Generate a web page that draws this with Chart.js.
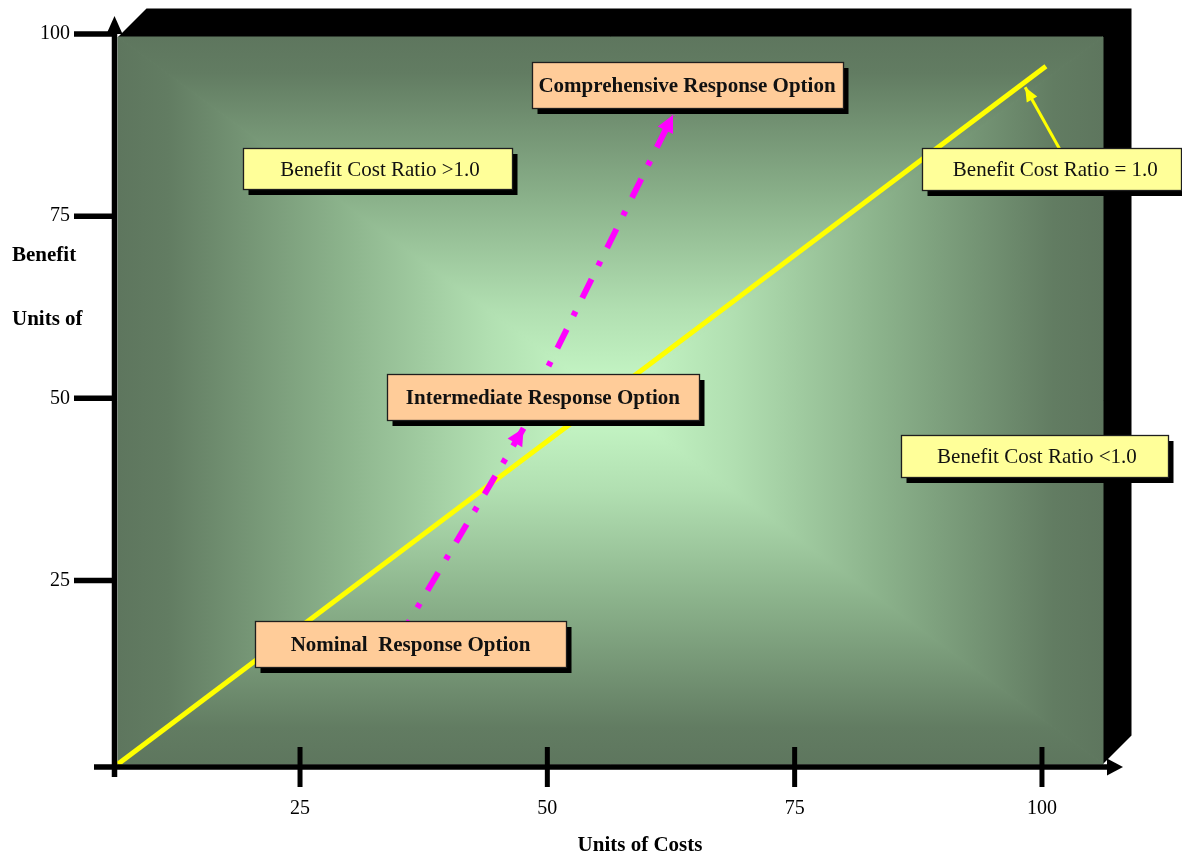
<!DOCTYPE html>
<html>
<head>
<meta charset="utf-8">
<title>Benefit / Cost of Response Options</title>
<script src="https://cdn.jsdelivr.net/npm/chart.js@4.4.0/dist/chart.umd.min.js"></script>
<style>
  html, body { margin: 0; padding: 0; background: #ffffff; }
  #wrap { position: relative; width: 1182px; height: 856px; }
</style>
</head>
<body>
<div id="wrap"><canvas id="chart"></canvas></div>
<script>
// ---- values ----
const xTicks = [25, 50, 75, 100];
const yTicks = [25, 50, 75, 100];

// benefit = cost reference line
const parityLine = [{ x: 6.6, y: -0.2 }, { x: 100.4, y: 95.6 }];
// progression of response options
const pathToIntermediate = [{ x: 35.0, y: 17.0 }, { x: 47.6, y: 45.9 }];
const pathToComprehensive = [{ x: 48.5, y: 50.0 }, { x: 62.7, y: 88.9 }];
// pointer from the "= 1.0" note to the reference line
const parityPointer = [{ x: 101.8, y: 84.2 }, { x: 98.3, y: 92.7 }];

const optionLabels = ['Nominal  Response Option', 'Intermediate Response Option', 'Comprehensive Response Option'];
const ratioLabels = ['Benefit Cost Ratio >1.0', 'Benefit Cost Ratio = 1.0', 'Benefit Cost Ratio <1.0'];
const xTitle = 'Units of Costs';
const yTitleLines = ['Benefit', 'Units of'];

const SERIF = '"Liberation Serif", "Times New Roman", serif';

// ---- panel: depth frame + rectangular centre gradient ----
const panelPlugin = {
  id: 'panel',
  beforeDatasetsDraw(chart) {
    const { ctx, chartArea: a } = chart;
    const d = 28.5;
    ctx.save();
    ctx.fillStyle = '#000000';
    ctx.beginPath();
    ctx.moveTo(a.left, a.top);
    ctx.lineTo(a.left + d, a.top - d);
    ctx.lineTo(a.right + d, a.top - d);
    ctx.lineTo(a.right + d, a.bottom - d);
    ctx.lineTo(a.right, a.bottom);
    ctx.lineTo(a.right, a.top);
    ctx.closePath();
    ctx.fill();

    const cx = (a.left + a.right) / 2, cy = (a.top + a.bottom) / 2;
    ctx.fillStyle = '#8fb38f';
    ctx.fillRect(a.left, a.top, a.right - a.left, a.bottom - a.top);
    const corners = [[a.left, a.top], [a.right, a.top], [a.right, a.bottom], [a.left, a.bottom]];
    const edges = [[cx, a.top], [a.right, cy], [cx, a.bottom], [a.left, cy]];
    for (let i = 0; i < 4; i++) {
      const p1 = corners[i], p2 = corners[(i + 1) % 4];
      const g = ctx.createLinearGradient(edges[i][0], edges[i][1], cx, cy);
      g.addColorStop(0, '#5e765e');
      g.addColorStop(0.1, '#627c62');
      g.addColorStop(0.45, '#8bb28b');
      g.addColorStop(0.75, '#b1dfb1');
      g.addColorStop(1, '#c9fbc9');
      ctx.fillStyle = g;
      ctx.strokeStyle = g;
      ctx.lineWidth = 1;
      ctx.beginPath();
      ctx.moveTo(p1[0], p1[1]);
      ctx.lineTo(p2[0], p2[1]);
      ctx.lineTo(cx, cy);
      ctx.closePath();
      ctx.fill();
      ctx.stroke();
    }
    ctx.restore();
  }
};

// ---- arrowheads at the end of selected datasets ----
const arrowPlugin = {
  id: 'arrowHeads',
  afterDatasetsDraw(chart, args, opts) {
    const { ctx } = chart;
    ctx.save();
    (opts.heads || []).forEach(h => {
      const pts = chart.getDatasetMeta(h.dataset).data;
      const p0 = pts[pts.length - 2], p1 = pts[pts.length - 1];
      const ang = Math.atan2(p1.y - p0.y, p1.x - p0.x);
      ctx.fillStyle = h.color;
      ctx.beginPath();
      ctx.moveTo(p1.x, p1.y);
      ctx.lineTo(p1.x - h.len * Math.cos(ang) + h.half * Math.sin(ang),
                 p1.y - h.len * Math.sin(ang) - h.half * Math.cos(ang));
      ctx.lineTo(p1.x - h.len * Math.cos(ang) - h.half * Math.sin(ang),
                 p1.y - h.len * Math.sin(ang) + h.half * Math.cos(ang));
      ctx.closePath();
      ctx.fill();
    });
    ctx.restore();
  }
};

// ---- text boxes with drop shadow ----
const boxPlugin = {
  id: 'noteBoxes',
  afterDatasetsDraw(chart, args, opts) {
    const { ctx } = chart;
    const xs = chart.scales.x, ys = chart.scales.y;
    ctx.save();
    (opts.boxes || []).forEach(b => {
      const cx = xs.getPixelForValue(b.x), cy = ys.getPixelForValue(b.y);
      const l = Math.round(cx - b.w / 2) + 0.5, t = Math.round(cy - b.h / 2) + 0.5;
      ctx.fillStyle = '#000000';
      ctx.fillRect(l + 5, t + 5.5, b.w, b.h);
      ctx.fillStyle = b.fill;
      ctx.fillRect(l, t, b.w, b.h);
      ctx.strokeStyle = '#1e1e1e';
      ctx.lineWidth = 1.3;
      ctx.strokeRect(l, t, b.w, b.h);
      ctx.fillStyle = '#111111';
      ctx.font = (b.bold ? 'bold ' : '') + '21px ' + SERIF;
      ctx.textAlign = 'center';
      ctx.textBaseline = 'middle';
      ctx.fillText(b.text, cx + (b.dx || 0), cy + 1.5);
    });
    ctx.restore();
  }
};

// ---- axis lines, arrow tips, tick marks and titles ----
const axesPlugin = {
  id: 'axesArt',
  afterDraw(chart) {
    const { ctx, chartArea: a } = chart;
    const xs = chart.scales.x, ys = chart.scales.y;
    ctx.save();
    ctx.strokeStyle = '#000000';
    ctx.fillStyle = '#000000';
    ctx.lineCap = 'butt';

    const ax = a.left - 3.5;      // vertical axis line
    const ay = a.bottom + 3;      // horizontal axis line
    ctx.lineWidth = 5.5;
    ctx.beginPath();
    ctx.moveTo(ax, ay + 10);
    ctx.lineTo(ax, a.top - 4);
    ctx.moveTo(a.left - 24, ay);
    ctx.lineTo(a.right + 5, ay);
    ctx.stroke();

    // arrow tips
    ctx.beginPath();
    ctx.moveTo(ax, a.top - 21);
    ctx.lineTo(ax - 8, a.top - 3);
    ctx.lineTo(ax + 8, a.top - 3);
    ctx.closePath();
    ctx.fill();
    ctx.beginPath();
    ctx.moveTo(a.right + 20, ay);
    ctx.lineTo(a.right + 4, ay - 8.5);
    ctx.lineTo(a.right + 4, ay + 8.5);
    ctx.closePath();
    ctx.fill();

    // tick marks
    ctx.lineWidth = 5.5;
    yTicks.forEach(v => {
      const y = ys.getPixelForValue(v);
      ctx.beginPath();
      ctx.moveTo(74, y);
      ctx.lineTo(ax, y);
      ctx.stroke();
    });
    ctx.lineWidth = 5;
    xTicks.forEach(v => {
      const x = xs.getPixelForValue(v);
      ctx.beginPath();
      ctx.moveTo(x, ay - 20);
      ctx.lineTo(x, ay + 20);
      ctx.stroke();
    });

    // titles
    ctx.font = 'bold 21px ' + SERIF;
    ctx.textBaseline = 'middle';
    ctx.textAlign = 'left';
    ctx.fillText(yTitleLines[0], 12, 256);
    ctx.fillText(yTitleLines[1], 12, 320);
    ctx.textAlign = 'center';
    ctx.fillText(xTitle, 640, 846);
    ctx.restore();
  }
};

const ctxEl = document.getElementById('chart');
new Chart(ctxEl, {
  type: 'scatter',
  data: {
    datasets: [
      {
        label: 'To comprehensive',
        data: pathToComprehensive,
        showLine: true,
        borderColor: '#ff00ff',
        borderWidth: 6,
        borderDash: [21, 15, 5, 15],
        borderCapStyle: 'butt',
        pointRadius: 0,
        clip: false
      },
      {
        label: 'To intermediate',
        data: pathToIntermediate,
        showLine: true,
        borderColor: '#ff00ff',
        borderWidth: 6,
        borderDash: [21, 15, 5, 15],
        borderCapStyle: 'butt',
        pointRadius: 0,
        clip: false
      },
      {
        label: 'Pointer',
        data: parityPointer,
        showLine: true,
        borderColor: '#ffff00',
        borderWidth: 3,
        pointRadius: 0,
        clip: false
      },
      {
        label: 'Benefit Cost Ratio = 1.0',
        data: parityLine,
        showLine: true,
        borderColor: '#ffff00',
        borderWidth: 5,
        borderCapStyle: 'butt',
        pointRadius: 0,
        clip: false
      }
    ]
  },
  options: {
    responsive: true,
    maintainAspectRatio: false,
    animation: false,
    events: [],
    layout: { padding: { left: 0, top: 37, right: 79, bottom: 0 } },
    plugins: {
      legend: { display: false },
      tooltip: { enabled: false },
      arrowHeads: {
        heads: [
          { dataset: 0, color: '#ff00ff', len: 17, half: 8.5 },
          { dataset: 1, color: '#ff00ff', len: 17, half: 8.5 },
          { dataset: 2, color: '#ffff00', len: 14, half: 6 }
        ]
      },
      noteBoxes: {
        boxes: [
          { text: optionLabels[0], x: 36.17, y: 16.32, w: 311, h: 46, fill: '#ffcc99', bold: true },
          { text: optionLabels[1], x: 49.55, y: 50.14, w: 312, h: 46, fill: '#ffcc99', bold: true },
          { text: optionLabels[2], x: 64.12, y: 92.97, w: 311, h: 46, fill: '#ffcc99', bold: true },
          { text: ratioLabels[0], x: 32.88, y: 81.51, w: 269, h: 41, fill: '#ffff99', bold: false, dx: 2 },
          { text: ratioLabels[1], x: 100.94, y: 81.46, w: 259, h: 42, fill: '#ffff99', bold: false, dx: 4 },
          { text: ratioLabels[2], x: 99.29, y: 42.06, w: 267, h: 42, fill: '#ffff99', bold: false, dx: 2 }
        ]
      }
    },
    scales: {
      x: {
        type: 'linear',
        min: 6.6,
        max: 106.17,
        afterFit(scale) {
          scale.height = 92;
          scale.paddingLeft = 0;
          scale.paddingRight = 0;
        },
        afterBuildTicks(scale) { scale.ticks = xTicks.map(v => ({ value: v })); },
        grid: { display: false, drawTicks: false, tickLength: 0 },
        border: { display: false },
        ticks: {
          autoSkip: false,
          maxRotation: 0,
          padding: 33,
          color: '#000000',
          font: { family: SERIF, size: 20 },
          callback: v => String(v)
        }
      },
      y: {
        type: 'linear',
        min: -0.2,
        max: 99.6,
        afterFit(scale) {
          scale.width = 118;
          scale.paddingTop = 0;
          scale.paddingBottom = 0;
        },
        afterBuildTicks(scale) { scale.ticks = yTicks.map(v => ({ value: v })); },
        grid: { display: false, drawTicks: false, tickLength: 0 },
        border: { display: false },
        ticks: {
          autoSkip: false,
          padding: 48,
          color: '#000000',
          font: { family: SERIF, size: 20 },
          callback: v => String(v)
        }
      }
    }
  },
  plugins: [panelPlugin, arrowPlugin, boxPlugin, axesPlugin]
});
</script>
</body>
</html>
